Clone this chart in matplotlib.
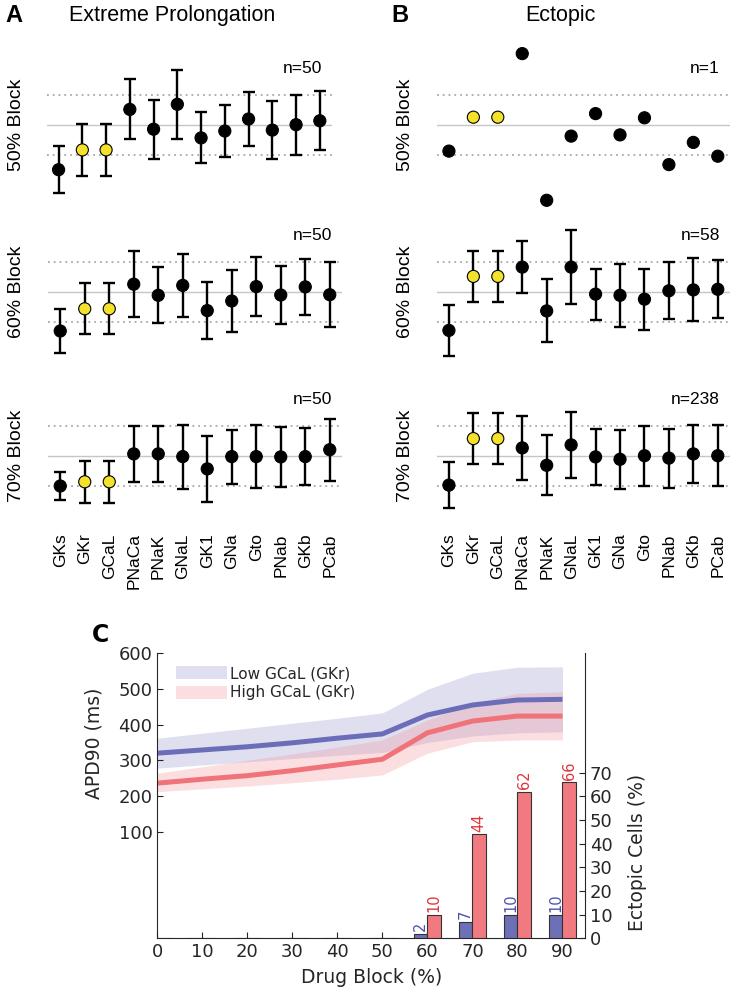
import numpy as np
import matplotlib
matplotlib.use('Agg')
import matplotlib.pyplot as plt
import matplotlib.transforms as mtransforms
from matplotlib.patches import Patch

# ---- data -------------------------------------------------------------
channels = ['GKs', 'GKr', 'GCaL', 'PNaCa', 'PNaK', 'GNaL', 'GK1', 'GNa',
            'Gto', 'PNab', 'GKb', 'PCab']

# A: extreme prolongation (normalised, mean +/- sd)
a50_mean = [-1.48, -0.82, -0.82, 0.53, -0.13, 0.70, -0.42, -0.19, 0.21, -0.16, 0.02, 0.15]
a50_err = [0.79, 0.86, 0.86, 1.00, 0.98, 1.15, 0.85, 0.87, 0.91, 0.97, 1.00, 0.98]
a60_mean = [-1.30, -0.56, -0.56, 0.26, -0.11, 0.22, -0.62, -0.30, 0.18, -0.10, 0.17, -0.09]
a60_err = [0.73, 0.85, 0.85, 1.10, 0.93, 1.04, 0.95, 1.02, 0.99, 0.98, 0.93, 1.09]
a70_mean = [-1.00, -0.86, -0.86, 0.07, 0.07, -0.02, -0.43, -0.02, -0.02, -0.03, -0.02, 0.21]
a70_err = [0.48, 0.71, 0.71, 0.94, 0.93, 1.07, 1.10, 0.90, 1.04, 1.00, 0.94, 1.04]

# B: ectopic
b50_vals = [-0.86, 0.27, 0.27, 2.39, -2.50, -0.36, 0.39, -0.32, 0.25, -1.31, -0.57, -1.03]
b60_mean = [-1.28, 0.52, 0.52, 0.83, -0.63, 0.83, -0.07, -0.11, -0.24, 0.04, 0.07, 0.09]
b60_err = [0.84, 0.86, 0.86, 0.87, 1.05, 1.23, 0.85, 1.04, 1.02, 0.95, 1.05, 0.97]
b70_mean = [-0.97, 0.58, 0.58, 0.27, -0.31, 0.37, -0.03, -0.11, 0.01, -0.07, 0.07, 0.01]
b70_err = [0.77, 0.86, 0.86, 1.07, 1.00, 1.10, 0.94, 0.98, 1.00, 0.98, 0.98, 1.01]

# C: APD90 vs drug block
block = [0, 10, 20, 30, 40, 50, 60, 70, 80, 90]
low_mean = [320, 329, 338, 349, 362, 374, 427, 455, 469, 471]
low_hi = [362, 376, 390, 404, 418, 433, 499, 544, 561, 562]
low_lo = [278, 287, 296, 305, 314, 322, 350, 368, 377, 380]
high_mean = [236, 247, 257, 271, 287, 303, 377, 410, 424, 424]
high_hi = [264, 282, 300, 318, 337, 357, 413, 460, 488, 492]
high_lo = [212, 220, 228, 237, 247, 259, 320, 352, 357, 357]
low_ect = [0, 0, 0, 0, 0, 0, 2, 7, 10, 10]
high_ect = [0, 0, 0, 0, 0, 0, 10, 44, 62, 66]

# ---- figure -----------------------------------------------------------
W, H = 734, 991
fig = plt.figure(figsize=(7.34, 9.91), dpi=100)
UNIT = 30.0  # px per normalised unit
ARIAL = 'Liberation Sans'


def px_axes(x0, x1, y0, y1):
    return fig.add_axes([x0 / W, 1 - y1 / H, (x1 - x0) / W, (y1 - y0) / H])


def dot_row(x0, x1, yc, lo, hi, means, errs, nlab, label, lab_x, ticks=False):
    ax = px_axes(x0, x1, yc - hi * UNIT, yc - lo * UNIT)
    x = np.arange(len(channels))
    ax.axhline(0, color='#c6c6c6', lw=1.0, zorder=1)
    for yy in (-1, 1):
        ax.axhline(yy, color='#a9a9a9', lw=1.3, ls=(0, (1, 2.2)), zorder=1)
    cols = ['#f4e12c' if c in ('GKr', 'GCaL') else 'black' for c in channels]
    if errs is not None:
        ax.errorbar(x, means, yerr=errs, fmt='none', ecolor='black',
                    elinewidth=1.7, capsize=4.3, capthick=1.7, zorder=2)
    ax.scatter(x, means, s=76, c=cols, edgecolors='black', linewidths=0.8, zorder=3)
    ax.set_xlim(-0.5, 11.5)
    ax.set_ylim(lo, hi)
    for s in ax.spines.values():
        s.set_visible(False)
    ax.set_yticks([])
    if ticks:
        ax.set_xticks(x)
        ax.set_xticklabels(channels, rotation=90, fontsize=12.5, family=ARIAL)
        ax.tick_params(axis='x', length=0, pad=5)
    else:
        ax.set_xticks([])
    tr = mtransforms.blended_transform_factory(ax.transAxes, ax.transData)
    ax.text(0.965, 1.88, nlab, transform=tr, ha='right', va='center',
            fontsize=12.5, family=ARIAL)
    fig.text(lab_x / W, 1 - yc / H, label, rotation=90, ha='center', va='center',
             fontsize=14, family=ARIAL)
    return ax


# panel A
dot_row(46.7, 331.7, 125.3, -2.8, 2.8, a50_mean, a50_err, 'n=50', '50% Block', 17)
dot_row(48, 342, 292, -2.6, 2.6, a60_mean, a60_err, 'n=50', '60% Block', 17)
dot_row(48, 342, 456, -2.35, 2.3, a70_mean, a70_err, 'n=50', '70% Block', 17, ticks=True)
# panel B
dot_row(436.7, 730, 125.3, -2.8, 2.8, b50_vals, None, 'n=1', '50% Block', 405)
dot_row(436.7, 730, 292, -2.6, 2.6, b60_mean, b60_err, 'n=58', '60% Block', 405)
dot_row(436.7, 730, 456, -2.35, 2.3, b70_mean, b70_err, 'n=238', '70% Block', 405, ticks=True)

fig.text(14 / W, 1 - 15 / H, 'A', fontsize=17, fontweight='bold', family=ARIAL,
         ha='center', va='center')
fig.text(172 / W, 1 - 15 / H, 'Extreme Prolongation', fontsize=15.5, family=ARIAL,
         ha='center', va='center')
fig.text(400 / W, 1 - 15 / H, 'B', fontsize=17, fontweight='bold', family=ARIAL,
         ha='center', va='center')
fig.text(560 / W, 1 - 15 / H, 'Ectopic', fontsize=15.5, family=ARIAL,
         ha='center', va='center')

# panel C
TXT = '#262626'
blue, red = '#6c6db8', '#ef7378'
blue_band, red_band = '#7b7dc4', '#f28a8f'

ax = px_axes(157.3, 585, 653.3, 938.3)
ax.fill_between(block, low_lo, low_hi, color=blue_band, alpha=0.24, lw=0)
ax.fill_between(block, high_lo, high_hi, color=red_band, alpha=0.27, lw=0)
ax.plot(block, low_mean, color=blue, lw=3.6, solid_capstyle='butt')
ax.plot(block, high_mean, color=red, lw=3.6, solid_capstyle='butt')
ax.set_xlim(0, 95)
ax.set_ylim(-199, 600)
ax.set_yticks([100, 200, 300, 400, 500, 600])
ax.set_xticks(block)
ax.tick_params(direction='in', length=4, labelsize=13, colors=TXT, width=0.8)
ax.spines['top'].set_visible(False)
ax.spines['right'].set_visible(False)
for s in ('left', 'bottom'):
    ax.spines[s].set_color(TXT)
    ax.spines[s].set_linewidth(0.8)
ax.set_ylabel('APD90 (ms)', fontsize=13.5, color=TXT)
ax.yaxis.set_label_coords(-0.125, 0.685)
ax.set_xlabel('Drug Block (%)', fontsize=13.5, color=TXT, labelpad=5)

handles = [Patch(facecolor=blue_band, alpha=0.24, lw=0),
           Patch(facecolor=red_band, alpha=0.27, lw=0)]
ax.legend(handles, ['Low GCaL (GKr)', 'High GCaL (GKr)'], loc='upper left',
          bbox_to_anchor=(0.044, 0.955), frameon=False, fontsize=11,
          handlelength=3.3, handleheight=0.95, handletextpad=0.25,
          labelspacing=0.28, borderpad=0, borderaxespad=0, labelcolor=TXT)

ax2 = ax.twinx()
bx = np.array(block)
ax2.bar(bx - 1.5, low_ect, width=3, color='#6e70b7', edgecolor='#333333', lw=0.8)
ax2.bar(bx + 1.5, high_ect, width=3, color='#f07a7f', edgecolor='#333333', lw=0.8)
for xi, lv, hv in zip(block, low_ect, high_ect):
    if lv > 0:
        ax2.text(xi - 1.5, lv + 1, str(lv), rotation=90, ha='center', va='bottom',
                 fontsize=10.5, color='#4a52a6')
    if hv > 0:
        ax2.text(xi + 1.5, hv + 1, str(hv), rotation=90, ha='center', va='bottom',
                 fontsize=10.5, color='#e0343b')
ax2.set_ylim(0, 120.4)
ax2.set_yticks(range(0, 80, 10))
ax2.tick_params(direction='in', length=4, labelsize=13, colors=TXT, width=0.8)
ax2.spines['top'].set_visible(False)
ax2.spines['left'].set_visible(False)
ax2.spines['bottom'].set_visible(False)
ax2.spines['right'].set_color(TXT)
ax2.spines['right'].set_linewidth(0.8)
ax2.set_ylabel('Ectopic Cells (%)', fontsize=13.5, color=TXT)
ax2.yaxis.set_label_coords(1.1, 0.30)

fig.text(100 / W, 1 - 635 / H, 'C', fontsize=17, fontweight='bold',
         ha='center', va='center', color='black')

fig.savefig('out.png', dpi=100)
